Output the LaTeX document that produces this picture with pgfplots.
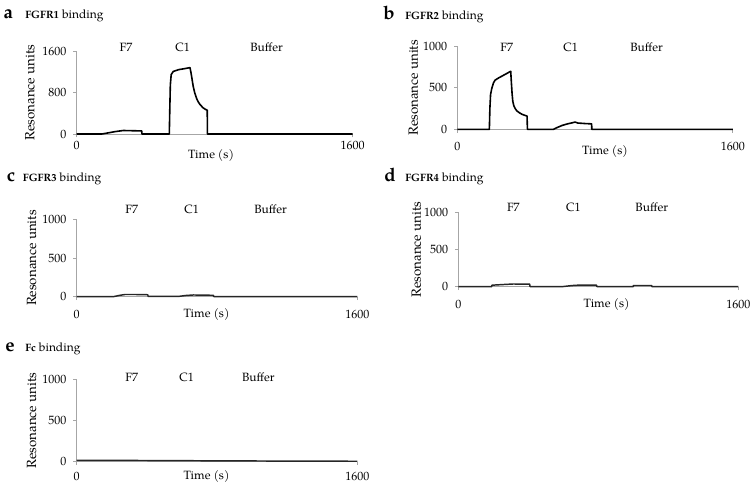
\documentclass[border=0pt]{standalone}
\usepackage{fontspec}
\setmainfont{texgyrepagella}[Extension=.otf, UprightFont=*-regular, BoldFont=*-bold, ItalicFont=*-italic, BoldItalicFont=*-bolditalic]
\usepackage{pgfplots}
\pgfplotsset{compat=1.18}
\definecolor{axgray}{HTML}{A6A6A6}
\newcommand\nine{\fontsize{9}{10}\selectfont}
\pgfplotsset{
  spr/.style={
    scale only axis,
    axis x line*=bottom, axis y line*=left,
    axis line style={axgray, line width=0.6pt},
    xmin=0, xmax=1600, ymin=0,
    xtick={0,1600},
    tick style={axgray, line width=0.6pt},
    major tick length=2.5pt,
    tick align=outside,
    ticklabel style={font=\nine},
    /pgf/number format/assume math mode=true,
    /pgf/number format/1000 sep={},
    yticklabel style={anchor=east, inner sep=0pt, xshift=-5pt},
    xticklabel style={anchor=center, inner sep=0pt},
    label style={font=\nine},
    xlabel={Time (s)},
    ylabel={Resonance units},
    clip=false,
  },
  curve/.style={black, line width=1.2pt, line join=round, mark=none},
  flat/.style={black!85, line width=1.1pt, line join=round, mark=none},
}
\newcommand\ptitle[5]{%
  \node[anchor=base west, inner sep=0pt, font=\fontsize{14}{15}\selectfont\bfseries] at (#1pt,#3pt) {#4};
  \node[anchor=base west, inner sep=0pt] at (#2pt,#3pt) {\fontsize{8}{9}\selectfont\bfseries #5\nine\mdseries\ binding};}
\newcommand\phases[4]{%
  \node[anchor=base, inner sep=0pt, font=\nine] at (#1pt,#4pt) {F7};
  \node[anchor=base, inner sep=0pt, font=\nine] at (#2pt,#4pt) {C1};
  \node[anchor=base, inner sep=0pt, font=\nine] at (#3pt,#4pt) {Buffer};}
\begin{document}
\begin{tikzpicture}
\path[use as bounding box] (0,0) rectangle (566.25pt,-365.25pt);

% ---------- a: FGFR1 ----------
\ptitle{2.5}{18.75}{-13.7}{a}{FGFR1}
\phases{94.5}{137}{200}{-38.6}
\begin{axis}[spr, at={(57.5pt,-100.5pt)}, anchor=south west,
  width=207pt, height=62pt, ymax=1600, ytick={0,800,1600},
  xticklabel style={yshift=-6.3pt},
  xlabel style={at={(rel axis cs:0.487,0)}, anchor=center, yshift=-15.75pt},
  every axis y label/.style={at={(rel axis cs:0,0.5)}, xshift=-35pt, rotate=90, anchor=center}]
\addplot[curve] coordinates {
(0,0) (145,0) (180,20) (220,45) (270,68) (320,64) (377,60) (378,0)
(537,0) (540,500) (543,950) (548,1150) (560,1210) (590,1245) (625,1265) (657,1285)
(662,1200) (667,1100) (676,915) (685,790) (695,690) (705,620) (715,572) (725,535)
(734,505) (745,480) (757,460) (758,0) (1600,0)};
\end{axis}

% ---------- b: FGFR2 ----------
\ptitle{287.25}{303.75}{-14.25}{b}{FGFR2}
\phases{380}{428}{485}{-38.75}
\begin{axis}[spr, at={(343pt,-97pt)}, anchor=south west,
  width=206.6pt, height=62.25pt, ymax=1000, ytick={0,500,1000},
  xticklabel style={yshift=-10pt},
  xlabel style={at={(rel axis cs:0.536,0)}, anchor=center, yshift=-16.8pt},
  every axis y label/.style={at={(rel axis cs:0,0.5)}, xshift=-33pt, rotate=90, anchor=center}]
\addplot[curve] coordinates {
(0,0) (186,0) (189,250) (193,420) (200,492) (210,560) (219,592) (240,620) (258,640)
(280,665) (300,688) (310,700) (314,560) (318,430) (322,340) (328,285) (336,250)
(346,222) (360,200) (375,182) (390,170) (405,160) (407,0)
(558,0) (580,22) (610,48) (640,66) (670,80) (684,88) (700,76) (740,70) (780,66) (781,0)
(1600,0)};
\end{axis}

% ---------- c: FGFR3 ----------
\ptitle{5}{17}{-136.3}{c}{FGFR3}
\phases{98.8}{143.8}{203}{-160}
\begin{axis}[spr, at={(57.5pt,-222.5pt)}, anchor=south west,
  width=210.5pt, height=58pt, ymax=1000, ytick={0,500,1000},
  xticklabel style={yshift=-10.5pt},
  xlabel style={at={(rel axis cs:0.463,0)}, anchor=center, yshift=-13pt},
  every axis y label/.style={at={(rel axis cs:0,0.5)}, xshift=-33.75pt, rotate=90, anchor=center}]
\addplot[flat] coordinates {
(0,0) (209,0) (240,15) (275,28) (340,28) (405,25) (408,3)
(579,3) (620,15) (665,22) (720,20) (779,18) (782,2) (1000,0) (1600,0)};
\end{axis}

% ---------- d: FGFR4 ----------
\ptitle{288}{303.75}{-136.3}{d}{FGFR4}
\phases{385}{430}{488.8}{-158.75}
\begin{axis}[spr, at={(343.7pt,-215pt)}, anchor=south west,
  width=210pt, height=55.8pt, ymax=1000, ytick={0,500,1000},
  xticklabel style={yshift=-10.5pt},
  xlabel style={at={(rel axis cs:0.530,0)}, anchor=center, yshift=-13pt},
  every axis y label/.style={at={(rel axis cs:0,0.5)}, xshift=-31.5pt, rotate=90, anchor=center}]
\addplot[flat] coordinates {
(0,0) (191,0) (192,20) (250,28) (314,36) (408,34) (410,2)
(600,2) (650,15) (695,22) (790,20) (792,2)
(1000,2) (1001,16) (1105,16) (1107,0) (1600,0)};
\end{axis}

% ---------- e: Fc ----------
\ptitle{3.75}{18.75}{-263.8}{e}{Fc}
\phases{98.8}{140}{193.7}{-286.25}
\begin{axis}[spr, at={(57.5pt,-346.3pt)}, anchor=south west,
  width=210.5pt, height=61.8pt, ymax=1000, ytick={0,500,1000},
  xticklabel style={yshift=-8.75pt},
  xlabel style={at={(rel axis cs:0.463,0)}, anchor=center, yshift=-11.25pt},
  every axis y label/.style={at={(rel axis cs:0,0.5)}, xshift=-33.75pt, rotate=90, anchor=center}]
\addplot[flat] coordinates {
(0,18) (400,15) (800,11) (1200,8) (1600,6)};
\end{axis}
\end{tikzpicture}
\end{document}
